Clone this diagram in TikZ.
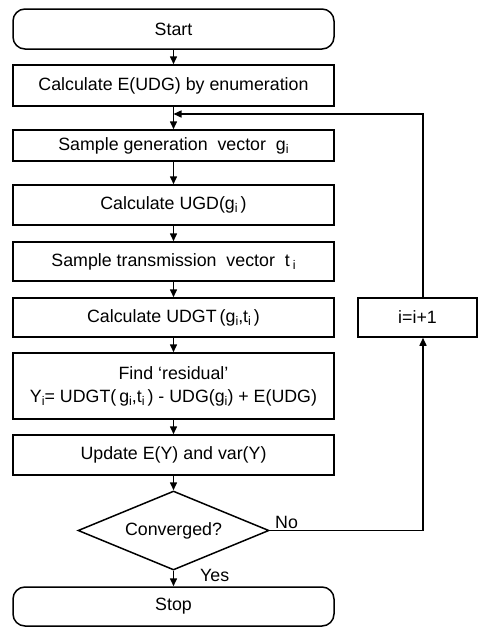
\documentclass[tikz,border=0pt]{standalone}
\usepackage{fontspec}
\setmainfont{Liberation Sans}
\usetikzlibrary{shapes.geometric,arrows.meta}
% small lowered index letter
\newcommand{\idx}[1]{\raisebox{-0.35ex}{\fontsize{12.5}{12.5}\selectfont #1}}
\begin{document}
\begin{tikzpicture}[x=1pt,y=-1pt,
  every node/.style={font=\fontsize{17.8}{22}\selectfont},
  procbox/.style={draw,line width=1.5pt,rectangle,minimum width=321pt,inner sep=0pt,align=center},
  termbox/.style={procbox,rounded corners=12pt},
  decbox/.style={draw,line width=1.5pt,diamond,minimum width=191pt,minimum height=79pt,inner sep=0pt,aspect=2.42},
  flow/.style={line width=1.5pt,-{Triangle[length=8pt,width=7pt]}},
  plain/.style={line width=1.5pt}]
\useasboundingbox (0,0) rectangle (477,627);
\node[termbox,minimum height=40pt] (start) at (173.5,29) {Start};
\node[procbox,minimum height=41pt] (enum) at (173.5,85.5) {Calculate E(UDG) by enumeration};
\node[procbox,minimum height=31pt] (gen) at (173.5,145.5) {Sample generation\ \ vector\ \ g\idx{i}};
\node[procbox,minimum height=40pt] (ugd) at (173.5,205) {Calculate UGD(g\idx{i}\,)};
\node[procbox,minimum height=39pt] (trans) at (173.5,261.5) {Sample transmission\ \ vector\ \ t\,\idx{i}};
\node[procbox,minimum height=39pt] (udgt) at (173.5,317.5) {Calculate UDGT\,(g\idx{i},t\idx{i}\,)};
\node[procbox,minimum height=66pt] (resid) at (173.5,386) {Find ‘residual’\\[1pt] Y\idx{i}= UDGT(\,g\idx{i},t\idx{i}\,) - UDG(g\idx{i}) + E(UDG)};
\node[procbox,minimum height=40pt] (upd) at (173.5,455) {Update E(Y) and var(Y)};
\node[decbox] (conv) at (173.5,530.5) {Converged?};
\node[termbox,minimum height=39pt] (stop) at (173.5,606.5) {Stop};
\node[procbox,minimum width=119pt,minimum height=39pt] (incr) at (417.5,317.5) {i=i+1};
\coordinate (join) at (173.5,114);

\draw[flow] (start) -- (enum);
\draw[flow] (enum) -- (gen);
\draw[flow] (gen) -- (ugd);
\draw[flow] (ugd) -- (trans);
\draw[flow] (trans) -- (udgt);
\draw[flow] (udgt) -- (resid);
\draw[flow] (resid) -- (upd);
\draw[flow] (upd) -- (conv);
\draw[flow] (conv) -- (stop);
\draw[flow] (conv.east) -| ([xshift=5.5pt]incr.south);
\draw[flow] ([xshift=5.5pt]incr.north) |- (join);

\node[anchor=south west,inner sep=0pt] (nolab) at (275,529) {No};
\node[anchor=north west,inner sep=0pt] (yeslab) at (200,569) {Yes};
\end{tikzpicture}
\end{document}
